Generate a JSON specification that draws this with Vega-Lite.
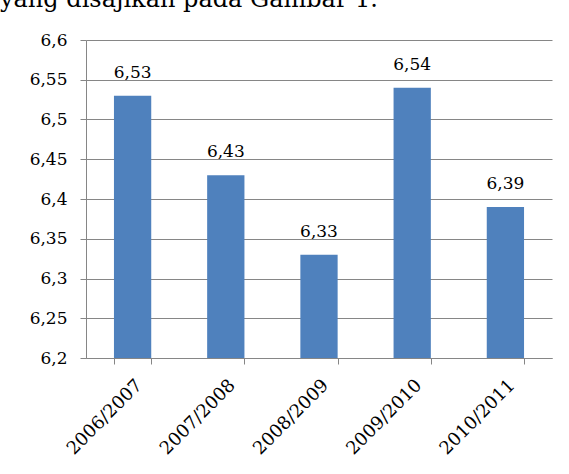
{
  "$schema": "https://vega.github.io/schema/vega-lite/v6.json",
  "autosize": {"type": "none"},
  "width": 466,
  "height": 318,
  "padding": {"left": 86, "top": 40, "right": 17, "bottom": 116},
  "background": "white",
  "title": {
    "text": "yang disajikan pada Gambar 1.",
    "anchor": "start",
    "frame": "group",
    "orient": "top",
    "baseline": "alphabetic",
    "dx": -86,
    "offset": 0,
    "font": "DejaVu Serif",
    "fontSize": 24,
    "fontWeight": "normal",
    "color": "black"
  },
  "data": {
    "values": [
      {"tahun": "2006/2007", "nilai": 6.53},
      {"tahun": "2007/2008", "nilai": 6.43},
      {"tahun": "2008/2009", "nilai": 6.33},
      {"tahun": "2009/2010", "nilai": 6.54},
      {"tahun": "2010/2011", "nilai": 6.39}
    ]
  },
  "encoding": {
    "x": {
      "field": "tahun",
      "type": "nominal",
      "sort": null,
      "title": null,
      "scale": {"paddingInner": 0.6, "paddingOuter": 0.3},
      "axis": {
        "labelAngle": -45,
        "labelAlign": "right",
        "labelBaseline": "top",
        "labelPadding": 12,
        "tickBand": "extent",
        "tickSize": 6,
        "tickColor": "#868686",
        "domainColor": "#868686",
        "labelFont": "DejaVu Serif",
        "labelFontSize": 18,
        "labelColor": "black"
      }
    },
    "y": {
      "field": "nilai",
      "type": "quantitative",
      "title": null,
      "scale": {"domain": [6.2, 6.6], "zero": false, "nice": false},
      "axis": {
        "values": [6.2, 6.25, 6.3, 6.35, 6.4, 6.45, 6.5, 6.55, 6.6],
        "format": ".2~f",
        "grid": true,
        "gridColor": "#868686",
        "tickColor": "#868686",
        "domainColor": "#868686",
        "tickSize": 6,
        "labelPadding": 13,
        "labelFont": "DejaVu Serif",
        "labelFontSize": 17,
        "labelColor": "black"
      }
    }
  },
  "layer": [
    {"mark": {"type": "bar", "color": "#4F81BD", "clip": true}},
    {
      "mark": {"type": "text", "baseline": "alphabetic", "dy": -18, "font": "DejaVu Serif", "fontSize": 17, "color": "black"},
      "encoding": {"text": {"field": "nilai", "type": "quantitative", "format": ".2f"}}
    }
  ],
  "config": {
    "locale": {"number": {"decimal": ",", "thousands": ".", "grouping": [3], "currency": ["", ""]}},
    "view": {"stroke": null},
    "axis": {"gridWidth": 1, "domainWidth": 1, "tickWidth": 1}
  }
}
